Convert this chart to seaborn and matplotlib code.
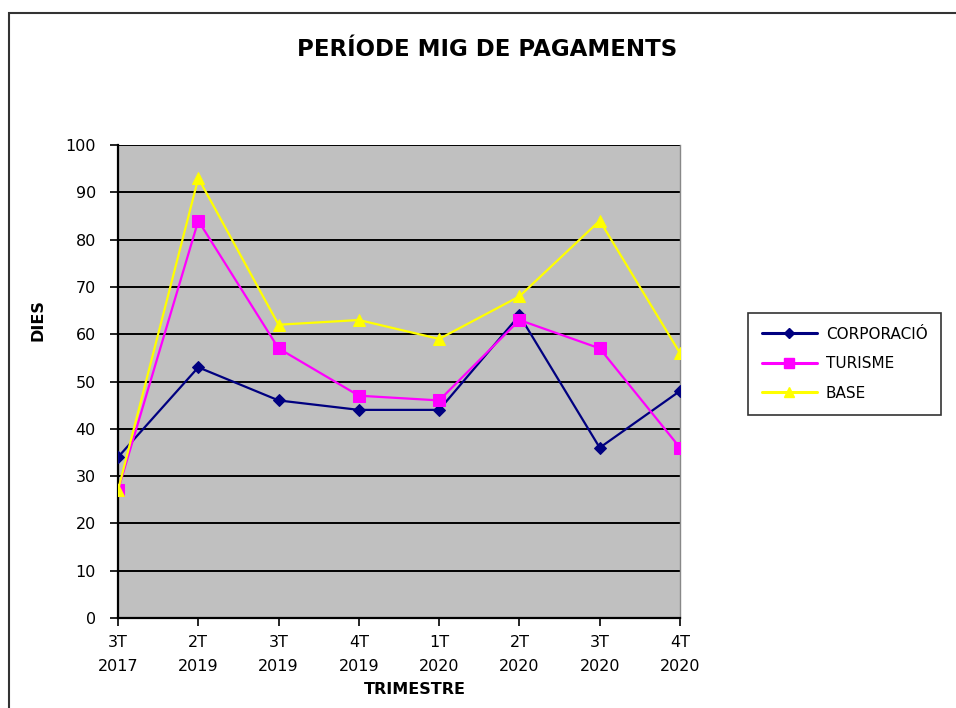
import matplotlib
matplotlib.use("Agg")
import matplotlib.pyplot as plt
import seaborn as sns
import pandas as pd
from matplotlib.patches import Rectangle
from matplotlib.lines import Line2D

quarters = ["3T\n2017", "2T\n2019", "3T\n2019", "4T\n2019", "1T\n2020", "2T\n2020", "3T\n2020", "4T\n2020"]
corporacio = [34, 53, 46, 44, 44, 64, 36, 48]
turisme = [27, 84, 57, 47, 46, 63, 57, 36]
base = [27, 93, 62, 63, 59, 68, 84, 56]

series_names = ["CORPORACIÓ", "TURISME", "BASE"]
series_vals = [corporacio, turisme, base]
colors = ["#000080", "#FF00FF", "#FFFF00"]
markers = ["D", "s", "^"]
msizes = [6, 9, 9]

sns.set_theme(style="white")
plt.rcParams['font.family'] = ['DejaVu Sans']
plt.rcParams['text.color'] = 'black'

fig = plt.figure(figsize=(9.56, 7.08), dpi=100)
ax = fig.add_axes([118/956, 1-618/708, (680-118)/956, (618-145)/708])
ax.set_facecolor("#C0C0C0")

# outer frame
fig.patches.append(Rectangle((9/956, -0.05), 1.0, 1-13/708+0.05, transform=fig.transFigure,
                             fill=False, edgecolor="#333333", linewidth=1.5, zorder=0))

rows = []
for name, vals in zip(series_names, series_vals):
    for i, v in enumerate(vals):
        rows.append({"pos": i, "value": v, "series": name})
df = pd.DataFrame(rows)

for name, c, m, ms in zip(series_names, colors, markers, msizes):
    sub = df[df["series"] == name]
    sns.lineplot(data=sub, x="pos", y="value", ax=ax, color=c, marker=m,
                 markersize=ms, markeredgecolor=c, linewidth=1.6, legend=False, zorder=3)

ax.set_xlim(0, len(quarters) - 1)
ax.set_ylim(0, 100)
ax.set_yticks(range(0, 101, 10))
ax.set_xticks(range(len(quarters)))
ax.set_xticklabels(quarters, fontsize=11.5, linespacing=1.75)
ax.tick_params(axis="y", labelsize=11.5, length=6, width=1.2, color="black", direction="out", left=True, pad=10)
ax.tick_params(axis="x", length=6, width=1.2, color="black", direction="out", bottom=True, pad=6)
for lbl in ax.get_xticklabels() + ax.get_yticklabels():
    lbl.set_color("black")

ax.yaxis.grid(True, color="black", linewidth=1.4)
ax.xaxis.grid(False)
ax.set_axisbelow(True)

for side in ["left", "bottom"]:
    ax.spines[side].set_color("black")
    ax.spines[side].set_linewidth(1.6)
ax.spines["top"].set_visible(False)
ax.spines["right"].set_color("#888888")
ax.spines["right"].set_linewidth(1.0)

ax.set_xlabel("")
ax.set_ylabel("DIES", fontsize=11.5, fontweight="bold", color="black")
ax.yaxis.set_label_coords(-72/562, (618-320)/473)

fig.text(415/956, 1-689/708, "TRIMESTRE", ha="center", va="center",
         fontsize=11.5, fontweight="bold", color="black")

fig.text(487/956, 1-50/708, "PERÍODE MIG DE PAGAMENTS", ha="center", va="center",
         fontsize=16.5, fontweight="bold", color="black")

handles = [Line2D([0], [0], color=c, marker=m, markersize=ms*0.85, markeredgecolor=c, linewidth=2.2)
           for c, m, ms in zip(colors, markers, msizes)]
leg = fig.legend(handles, series_names, loc="upper left",
                 bbox_to_anchor=(748/956, 1-313/708), bbox_transform=fig.transFigure,
                 frameon=True, fancybox=False, fontsize=11, handlelength=3.6,
                 labelspacing=0.95, borderpad=0.9, handletextpad=0.6, borderaxespad=0)
leg.get_frame().set_edgecolor("black")
leg.get_frame().set_linewidth(1.2)
for t in leg.get_texts():
    t.set_color("black")

fig.savefig("out.png", dpi=100)
